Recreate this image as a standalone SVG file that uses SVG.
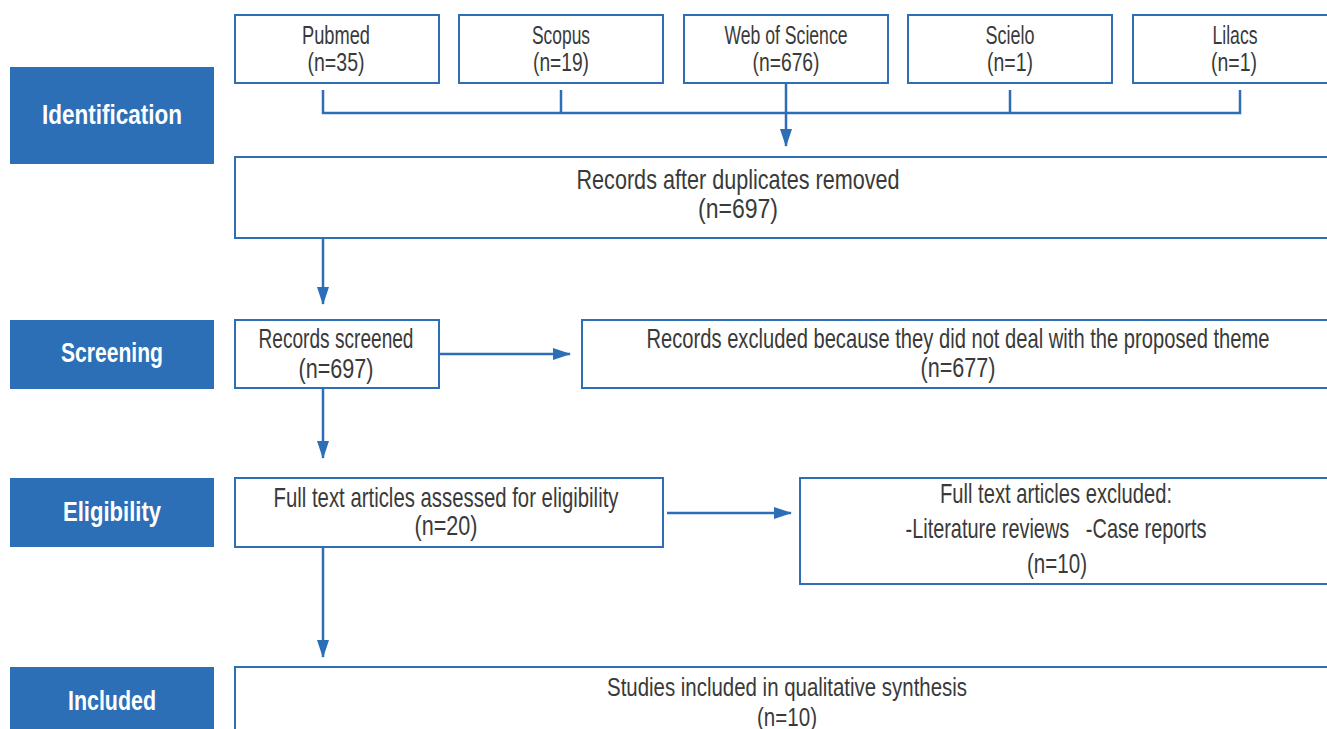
<svg xmlns="http://www.w3.org/2000/svg" width="1327" height="729" viewBox="0 0 1327 729">
<style>
.stage{fill:#2c6fb7}
.stl{font-family:"Liberation Sans",Arial,sans-serif;font-weight:bold;font-size:27px;fill:#ffffff;text-anchor:middle}
.box{fill:#ffffff;stroke:#2c6fb7;stroke-width:2}
.t{font-family:"Liberation Sans",Arial,sans-serif;fill:#3a3a3a;text-anchor:middle}
.s{font-size:25px}
.m{font-size:28px}
.ln{fill:none;stroke:#2c6fb7;stroke-width:2.5}
</style>
<defs>
<marker id="ah" viewBox="0 0 18 12" refX="17" refY="6" markerWidth="18" markerHeight="12" markerUnits="userSpaceOnUse" orient="auto">
<path d="M0,0 L18,6 L0,12 z" fill="#2c6fb7"/>
</marker>
</defs>
<rect width="1327" height="729" fill="#ffffff"/>

<g id="stage-identification"><rect class="stage" x="10" y="67" width="204" height="97"/><text class="stl" x="112" y="124" textLength="140" lengthAdjust="spacingAndGlyphs">Identification</text></g>
<g id="stage-screening"><rect class="stage" x="10" y="320" width="204" height="69"/><text class="stl" x="112" y="362" textLength="102" lengthAdjust="spacingAndGlyphs">Screening</text></g>
<g id="stage-eligibility"><rect class="stage" x="10" y="478" width="204" height="69"/><text class="stl" x="112" y="521" textLength="98" lengthAdjust="spacingAndGlyphs">Eligibility</text></g>
<g id="stage-included"><rect class="stage" x="10" y="667" width="204" height="62"/><text class="stl" x="112" y="710" textLength="88" lengthAdjust="spacingAndGlyphs">Included</text></g>

<g id="pubmed"><rect class="box" x="235" y="15" width="204" height="68"/><text class="t s" x="336" y="44" textLength="68" lengthAdjust="spacingAndGlyphs">Pubmed</text><text class="t s" x="336" y="71" textLength="57" lengthAdjust="spacingAndGlyphs">(n=35)</text></g>
<g id="scopus"><rect class="box" x="459" y="15" width="204" height="68"/><text class="t s" x="561" y="44" textLength="58" lengthAdjust="spacingAndGlyphs">Scopus</text><text class="t s" x="561" y="71" textLength="56" lengthAdjust="spacingAndGlyphs">(n=19)</text></g>
<g id="wos"><rect class="box" x="684" y="15" width="204" height="68"/><text class="t s" x="786" y="44" textLength="123" lengthAdjust="spacingAndGlyphs">Web of Science</text><text class="t s" x="786" y="71" textLength="67" lengthAdjust="spacingAndGlyphs">(n=676)</text></g>
<g id="scielo"><rect class="box" x="908" y="15" width="204" height="68"/><text class="t s" x="1010" y="44" textLength="49" lengthAdjust="spacingAndGlyphs">Scielo</text><text class="t s" x="1010" y="71" textLength="46" lengthAdjust="spacingAndGlyphs">(n=1)</text></g>
<g id="lilacs"><rect class="box" x="1133" y="15" width="204" height="68"/><text class="t s" x="1235" y="44" textLength="45" lengthAdjust="spacingAndGlyphs">Lilacs</text><text class="t s" x="1234" y="71" textLength="46" lengthAdjust="spacingAndGlyphs">(n=1)</text></g>

<g id="dedup"><rect class="box" x="235" y="157" width="1100" height="81"/><text class="t m" x="738" y="189" textLength="323" lengthAdjust="spacingAndGlyphs">Records after duplicates removed</text><text class="t m" x="738" y="218" textLength="80" lengthAdjust="spacingAndGlyphs">(n=697)</text></g>

<g id="screened"><rect class="box" x="235" y="320" width="204" height="68"/><text class="t m" x="336" y="348" textLength="155" lengthAdjust="spacingAndGlyphs">Records screened</text><text class="t m" x="336" y="378" textLength="75" lengthAdjust="spacingAndGlyphs">(n=697)</text></g>
<g id="excluded1"><rect class="box" x="582" y="320" width="760" height="68"/><text class="t m" x="958" y="348" textLength="623" lengthAdjust="spacingAndGlyphs">Records excluded because they did not deal with the proposed theme</text><text class="t m" x="958" y="377" textLength="75" lengthAdjust="spacingAndGlyphs">(n=677)</text></g>

<g id="fulltext"><rect class="box" x="235" y="478" width="428" height="69"/><text class="t m" x="446" y="507" textLength="345" lengthAdjust="spacingAndGlyphs">Full text articles assessed for eligibility</text><text class="t m" x="446" y="535" textLength="63" lengthAdjust="spacingAndGlyphs">(n=20)</text></g>
<g id="excluded2"><rect class="box" x="800" y="478" width="540" height="106"/><text class="t m" x="1056" y="503" textLength="232" lengthAdjust="spacingAndGlyphs">Full text articles excluded:</text><text class="t m" x="1056" y="538" textLength="301" lengthAdjust="spacingAndGlyphs" xml:space="preserve">-Literature reviews   -Case reports</text><text class="t m" x="1057" y="573" textLength="60" lengthAdjust="spacingAndGlyphs">(n=10)</text></g>

<g id="included"><rect class="box" x="235" y="667" width="1100" height="80"/><text class="t s" x="787" y="696" textLength="360" lengthAdjust="spacingAndGlyphs">Studies included in qualitative synthesis</text><text class="t s" x="787" y="726" textLength="60" lengthAdjust="spacingAndGlyphs">(n=10)</text></g>

<g id="connectors">
<path class="ln" d="M323,90 V113 H1240 V90"/>
<path class="ln" d="M561,90 V113"/>
<path class="ln" d="M1010,90 V113"/>
<path class="ln" d="M786,84 V146" marker-end="url(#ah)"/>
<path class="ln" d="M323,239 V304" marker-end="url(#ah)"/>
<path class="ln" d="M440,354 H570" marker-end="url(#ah)"/>
<path class="ln" d="M323,389 V458" marker-end="url(#ah)"/>
<path class="ln" d="M667,513 H791" marker-end="url(#ah)"/>
<path class="ln" d="M323,548 V657" marker-end="url(#ah)"/>
</g>
</svg>
